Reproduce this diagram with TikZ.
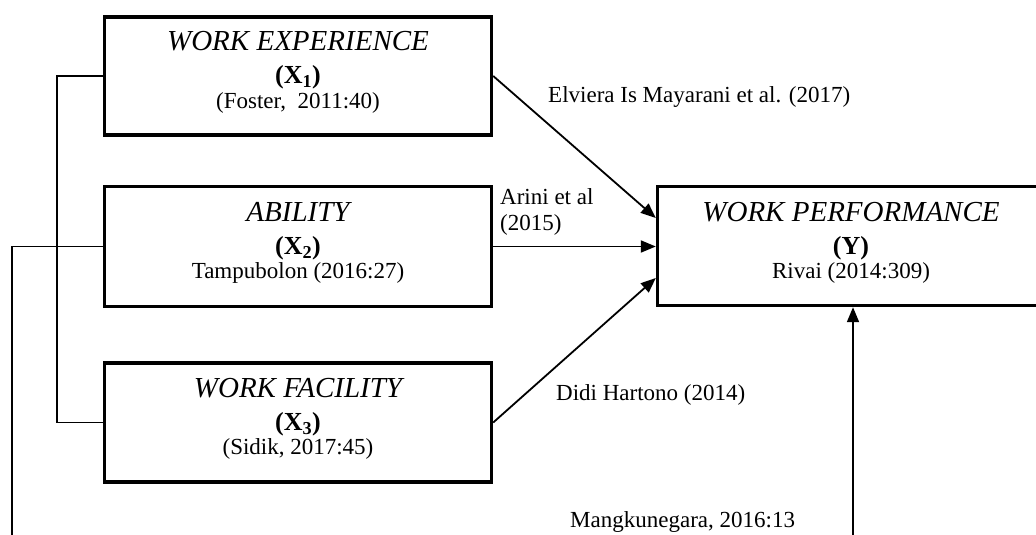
\documentclass[tikz,border=0pt]{standalone}
\usepackage{fontspec}
\setmainfont{Liberation Serif}
\usetikzlibrary{arrows.meta,calc}
\begin{document}
\begin{tikzpicture}[x=1pt,y=-1pt,
  box/.style={draw, line width=3.4pt, minimum width=387pt, inner sep=0pt},
  ttl/.style={anchor=base, inner sep=0pt, font=\fontsize{29}{32}\selectfont\itshape},
  var/.style={anchor=base, inner sep=0pt, font=\fontsize{26}{30}\selectfont\bfseries},
  cite/.style={anchor=base, inner sep=0pt, font=\fontsize{23}{26}\selectfont},
  conn/.style={line width=1.8pt},
  arr/.style={conn, -{Triangle[length=15pt,width=12pt]}},
  lbl/.style={anchor=west, inner sep=0pt, font=\fontsize{23}{26}\selectfont, align=left}]
\useasboundingbox (0,0) rectangle (1036,535);
\clip (0,0) rectangle (1036,535);
\fill[white] (0,0) rectangle (1036,535);

\node[box, minimum height=118pt] (X1) at (298,76) {};
\node[box, minimum height=120pt] (X2) at (298,246.5) {};
\node[box, minimum height=119pt] (X3) at (298,422.5) {};
\node[box, minimum height=119pt] (Y) at (851,246) {};

\node[ttl]  (X1t) at ($(X1.center)+(0,-25)$) {WORK EXPERIENCE};
\node[var]  (X1v) at ($(X1.center)+(0,8)$) {(X\textsubscript{1})};
\node[cite] (X1c) at ($(X1.center)+(0,32)$) {(Foster,\ \ 2011:40)};

\node[ttl]  (X2t) at ($(X2.center)+(0,-25)$) {ABILITY};
\node[var]  (X2v) at ($(X2.center)+(0,8)$) {(X\textsubscript{2})};
\node[cite] (X2c) at ($(X2.center)+(0,32)$) {Tampubolon (2016:27)};

\node[ttl]  (X3t) at ($(X3.center)+(0,-25)$) {WORK FACILITY};
\node[var]  (X3v) at ($(X3.center)+(0,8)$) {(X\textsubscript{3})};
\node[cite] (X3c) at ($(X3.center)+(0,32)$) {(Sidik, 2017:45)};

\node[ttl]  (Yt) at ($(Y.center)+(0,-25)$) {WORK PERFORMANCE};
\node[var]  (Yv) at ($(Y.center)+(0,8)$) {(Y)};
\node[cite] (Yc) at ($(Y.center)+(0,32)$) {Rivai (2014:309)};

\coordinate (bl) at (12,535);
\coordinate (bm) at (853,535);

\draw[conn] (X1.west) -- ++(-46,0) |- (X3.west);
\draw[conn] (X2.west) -| (bl);

\draw[arr] (X1.east) -- ($(Y.west)+(0,-28)$);
\draw[arr] (X2.east) -- (X2.east -| Y.west);
\draw[arr] (X3.east) -- ($(Y.west)+(0,32)$);
\draw[arr] (bm) -- (bm |- Y.south);

\node[lbl] (l1) at (548,97) {Elviera Is Mayarani et al. (2017)};
\node[lbl] (l2) at (500,212) {Arini et al\\(2015)};
\node[lbl] (l3) at (556,395) {Didi Hartono (2014)};
\node[lbl] (l4) at (570,522) {Mangkunegara, 2016:13};
\end{tikzpicture}
\end{document}
